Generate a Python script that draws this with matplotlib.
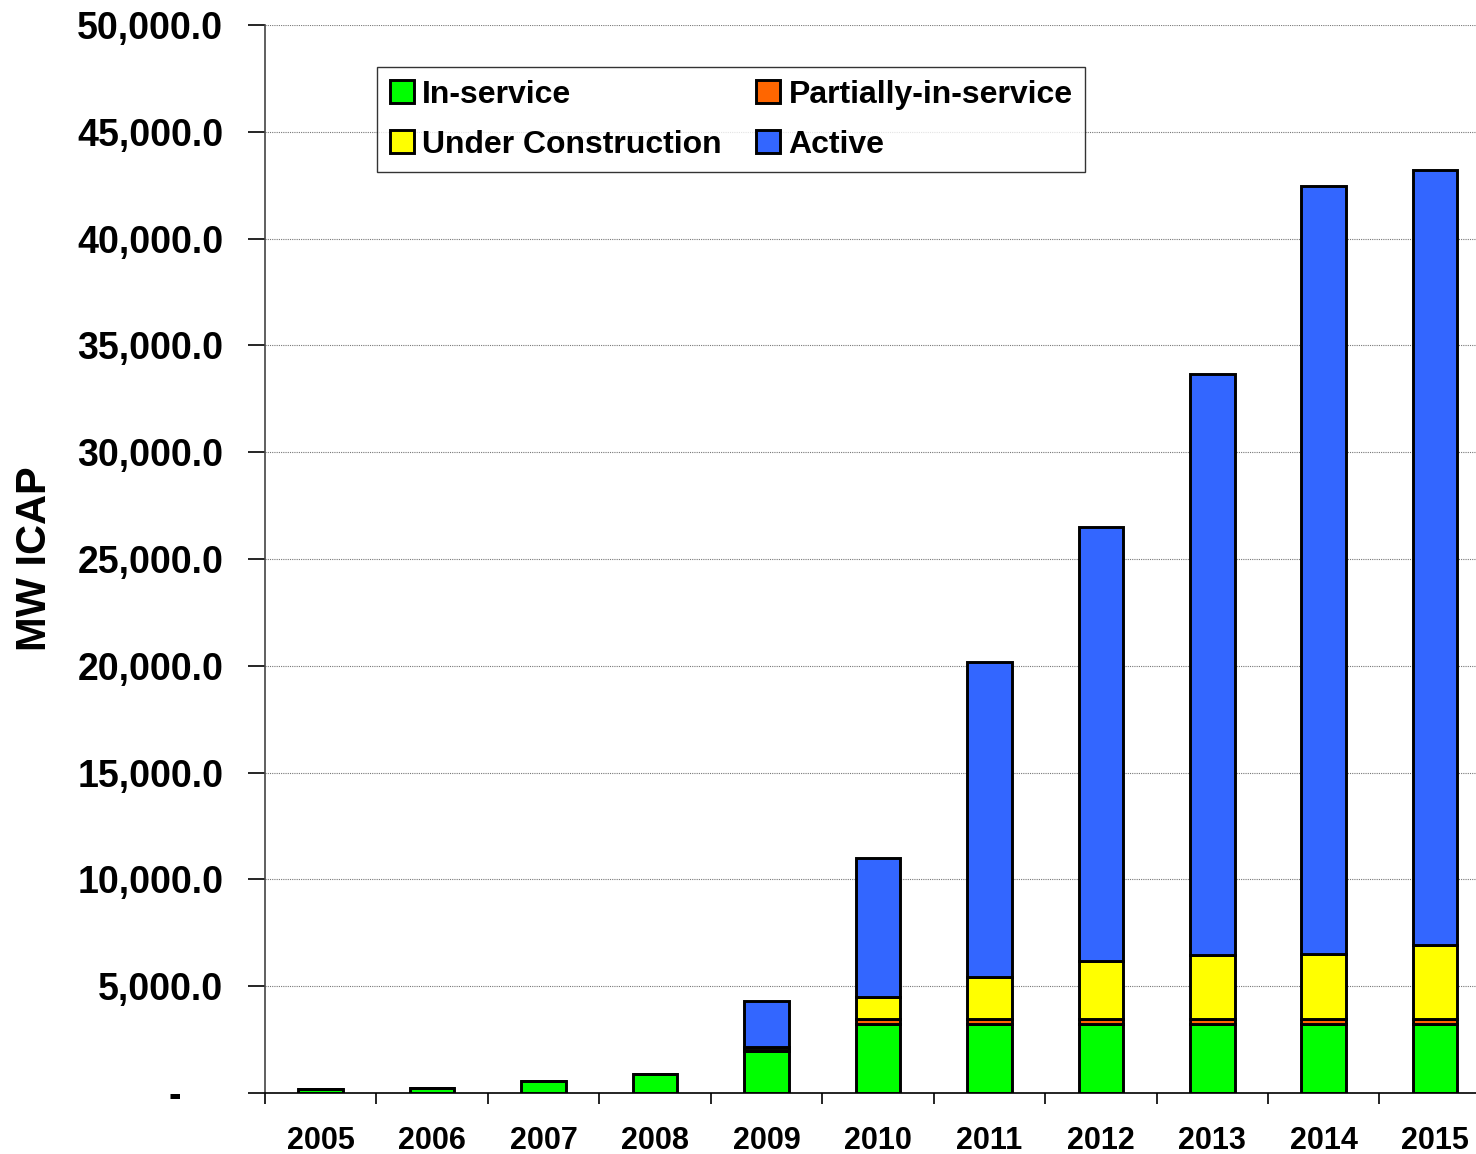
import numpy as np
import matplotlib.pyplot as plt
from matplotlib.ticker import FuncFormatter, MultipleLocator

plt.rcParams['font.family'] = ['Liberation Sans', 'DejaVu Sans']
plt.rcParams['font.weight'] = 'bold'

years = ["2005", "2006", "2007", "2008", "2009", "2010",
         "2011", "2012", "2013", "2014", "2015"]
in_service = [170, 240, 560, 875, 1970, 3250, 3250, 3250, 3250, 3250, 3250]
partial = [0, 0, 0, 0, 20, 220, 220, 220, 220, 220, 220]
under_construction = [0, 0, 0, 0, 150, 1020, 1950, 2730, 2985, 3030, 3480]
active = [0, 0, 0, 0, 2180, 6520, 14740, 20290, 27205, 35970, 36270]

series = [
    ("In-service", in_service, "#00FF00"),
    ("Partially-in-service", partial, "#FF6600"),
    ("Under Construction", under_construction, "#FFFF00"),
    ("Active", active, "#3366FF"),
]

fig = plt.figure(figsize=(14.76, 11.54), dpi=100)
ax = fig.add_axes([0.1795, 0.0529, 0.8306, 0.9254])

x = np.arange(len(years))
bottom = np.zeros(len(years))
handles = {}
for name, vals, color in series:
    vals = np.array(vals, dtype=float)
    h = ax.bar(x, vals, 0.4, bottom=bottom, color=color, edgecolor="black",
               linewidth=2.1, label=name, zorder=3)
    handles[name] = h
    bottom += vals

ax.set_xlim(-0.5, len(years) - 0.5)
ax.set_ylim(0, 50000)
ax.yaxis.set_major_locator(MultipleLocator(5000))
# accounting style: zero shown as a dash, set in from the right
ax.yaxis.set_major_formatter(FuncFormatter(lambda v, p: "-    " if v == 0 else f"{v:,.1f}"))
ax.grid(axis="y", linestyle=(0, (1, 1)), color="#777777", linewidth=0.8, zorder=0)

# year labels centred, ticks between categories
ax.set_xticks(x)
ax.set_xticklabels(years, fontsize=22, fontweight="bold")
ax.tick_params(axis="x", length=0, pad=24)
ax.set_xticks(np.arange(-0.5, len(years), 1), minor=True)
ax.tick_params(axis="x", which="minor", length=8, width=1.2, direction="out")
ax.tick_params(axis="y", length=12, width=1.2, direction="out", labelsize=27, pad=18)
for lbl in ax.get_yticklabels():
    lbl.set_fontweight("bold")

ax.spines["top"].set_visible(False)
ax.spines["right"].set_visible(False)
ax.spines["left"].set_color("#444444")
ax.spines["left"].set_linewidth(1.2)
ax.spines["bottom"].set_linewidth(1.2)

ax.set_ylabel("MW ICAP", fontsize=30, fontweight="bold", labelpad=16)

order = ["In-service", "Under Construction", "Partially-in-service", "Active"]
leg = ax.legend([handles[n] for n in order], order, ncol=2,
                loc="upper left", bbox_to_anchor=(0.0914, 0.9607),
                borderaxespad=0, fontsize=23, frameon=True, fancybox=False,
                edgecolor="black", handlelength=0.75, handleheight=0.75,
                handletextpad=0.25, columnspacing=1.1, labelspacing=0.62,
                borderpad=0.4)
leg.get_frame().set_linewidth(1.0)
for t in leg.get_texts():
    t.set_fontweight("bold")

fig.savefig("out.png", dpi=100)
